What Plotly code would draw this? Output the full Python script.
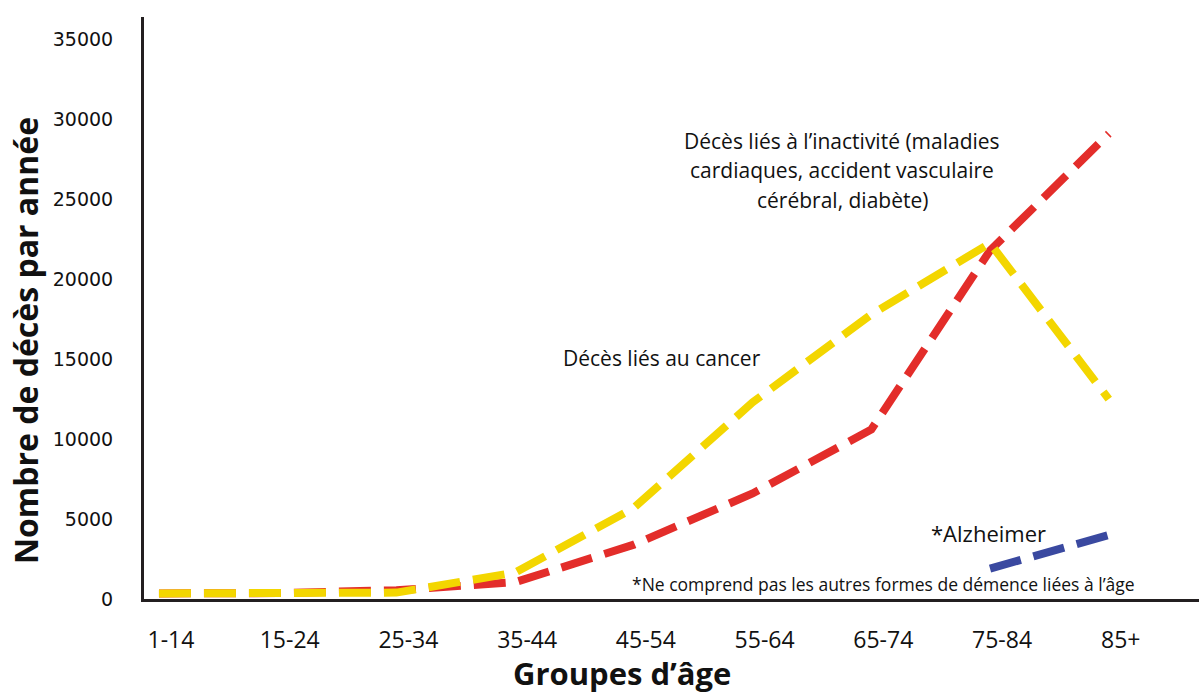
import plotly.graph_objects as go

age_groups = ["1-14", "15-24", "25-34", "35-44", "45-54", "55-64", "65-74", "75-84", "85+"]
cancer_deaths = [350, 370, 400, 1650, 5700, 12300, 17800, 22250, 12500]
inactivity_deaths = [350, 370, 550, 1050, 3400, 6600, 10600, 21800, 29100]
alz_groups = ["75-84", "85+"]
alzheimer_deaths = [1900, 4000]
y_ticks = [0, 5000, 10000, 15000, 20000, 25000, 30000, 35000]

W, H = 1199, 694
L, R, T, B = 144, 0, 17, 95
pw, ph = W - L - R, H - T - B

def px(x):
    return (x - L) / pw

def py(y):
    return (H - B - y) / ph

FONT = "Open Sans"
dash = "32px,13px"

fig = go.Figure()
fig.add_trace(go.Scatter(x=age_groups, y=inactivity_deaths, mode="lines",
                         line=dict(color="#e32d2a", width=8, dash=dash), hoverinfo="skip"))
fig.add_trace(go.Scatter(x=alz_groups, y=alzheimer_deaths, mode="lines",
                         line=dict(color="#3a49a0", width=8, dash=dash), hoverinfo="skip"))
fig.add_trace(go.Scatter(x=age_groups, y=cancer_deaths, mode="lines",
                         line=dict(color="#f3d600", width=8, dash=dash), hoverinfo="skip"))

ann = []
def text(x, y, s, size, bold=False, angle=0):
    ann.append(dict(xref="paper", yref="paper", x=px(x), y=py(y), text=s, showarrow=False,
                    xanchor="center", yanchor="middle", textangle=angle,
                    font=dict(family=FONT, size=size, color="#111111",
                              weight="bold" if bold else "normal")))

text(842, 141, "Décès liés à l’inactivité (maladies", 21)
text(842, 170, "cardiaques, accident vasculaire", 21)
text(842, 200, "cérébral, diabète)", 21)
text(662, 358, "Décès liés au cancer", 21)
text(988, 533, "*Alzheimer", 22)
text(883, 584, "*Ne comprend pas les autres formes de démence liées à l’âge", 17.5)
text(25, 341, "Nombre de décès par année", 32, bold=True, angle=-90)
text(622, 673, "Groupes d’âge", 31, bold=True)

fig.update_layout(
    width=W, height=H,
    margin=dict(l=L, r=R, t=T, b=B, pad=0),
    paper_bgcolor="white", plot_bgcolor="white",
    showlegend=False,
    annotations=ann,
    xaxis=dict(type="category", categoryorder="array", categoryarray=age_groups,
               range=[-0.126, 8.76], showgrid=False, zeroline=False,
               showline=True, linecolor="#231f20", linewidth=3,
               ticks="", tickfont=dict(family=FONT, size=23, color="#111111"),
               ticklabelshift=12, ticklabelstandoff=18),
    yaxis=dict(range=[0, 36400], tickvals=y_ticks, ticktext=[str(v) for v in y_ticks],
               showgrid=False, zeroline=False,
               showline=True, linecolor="#231f20", linewidth=3,
               ticks="", tickfont=dict(family="DejaVu Sans", size=19, color="#111111"),
               ticklabelstandoff=24),
)

fig.write_html("out.html", config={"displayModeBar": False},
               post_script="document.body.style.margin='0';document.body.style.padding='0';")
